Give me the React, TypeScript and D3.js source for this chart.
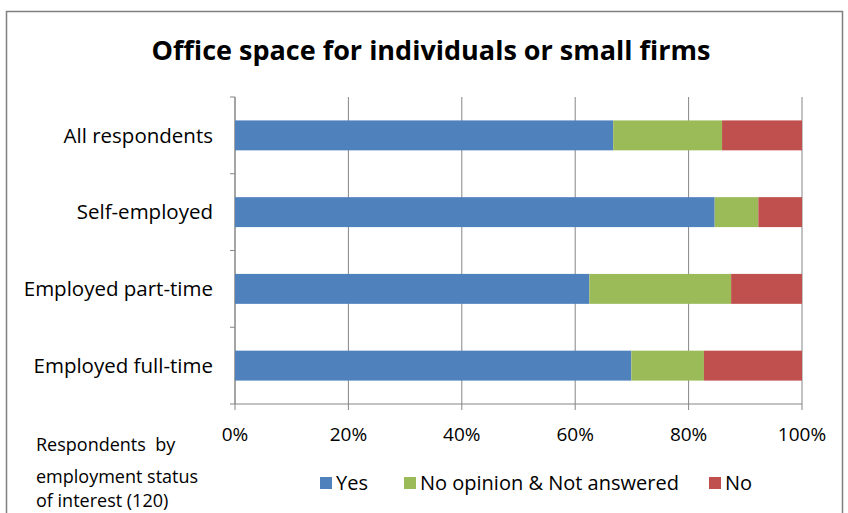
import React from "react";
import * as d3 from "d3";

const categories = ["All respondents", "Self-employed", "Employed part-time", "Employed full-time"];
const yesValues = [66.7, 84.6, 62.5, 69.9];
const noOpinionValues = [19.2, 7.7, 25.0, 12.8];
const noValues = [14.1, 7.7, 12.5, 17.3];
const seriesNames = ["Yes", "No opinion & Not answered", "No"];
const seriesColors = ["#4F81BD", "#9BBB59", "#C0504D"];
const xTicks = [0, 20, 40, 60, 80, 100];
const title = "Office space for individuals or small firms";
const noteLines = ["Respondents  by", "employment status", "of interest (120)"];

const W = 848;
const H = 513;
const FONT = "'Open Sans', 'Noto Sans', sans-serif";

export default function App() {
  const x = d3.scaleLinear().domain([0, 100]).range([235, 802]);
  const y = d3.scaleBand<string>().domain(categories).range([97, 404]).paddingInner(0.61).paddingOuter(0.305);
  const step = y.step();

  const rows = categories.map((c, i) => {
    const vals = [yesValues[i], noOpinionValues[i], noValues[i]];
    let acc = 0;
    const segs = vals.map((v, k) => {
      const s = { x0: acc, x1: acc + v, k };
      acc += v;
      return s;
    });
    return { c, segs };
  });

  const legendX = [320, 404, 709];
  const gridColor = "#868686";

  return (
    <svg width={W} height={H} style={{ position: "absolute", left: 0, top: 0, background: "#fff" }}>
      <rect x={0} y={0} width={W} height={H} fill="#fff" />
      <rect x={6.5} y={11.5} width={836} height={520} fill="#fff" stroke="#7f7f7f" strokeWidth={1.5} />
      <text x={431} y={60} textAnchor="middle" fontFamily={FONT} fontWeight={700} fontSize={27} fill="#000">
        {title}
      </text>
      {/* gridlines */}
      {xTicks.map((t) => (
        <line key={"g" + t} x1={x(t)} x2={x(t)} y1={97} y2={410} stroke={gridColor} strokeWidth={1} />
      ))}
      {/* y axis ticks */}
      {d3.range(categories.length + 1).map((i) => (
        <line key={"yt" + i} x1={230} x2={235} y1={97 + i * step} y2={97 + i * step} stroke={gridColor} />
      ))}
      <line x1={235} x2={235} y1={97} y2={404} stroke={gridColor} />
      <line x1={235} x2={802} y1={404} y2={404} stroke={gridColor} />
      {/* bars */}
      {rows.map((r) =>
        r.segs.map((s) => (
          <rect
            key={r.c + s.k}
            x={x(s.x0)}
            y={y(r.c)}
            width={x(s.x1) - x(s.x0)}
            height={y.bandwidth()}
            fill={seriesColors[s.k]}
          />
        ))
      )}
      {/* category labels */}
      {categories.map((c) => (
        <text
          key={"cl" + c}
          x={213}
          y={(y(c) as number) + y.bandwidth() / 2}
          dy="0.35em"
          textAnchor="end"
          fontFamily={FONT}
          fontSize={20.5}
          fill="#000"
        >
          {c}
        </text>
      ))}
      {/* x tick labels */}
      {xTicks.map((t) => (
        <text key={"xl" + t} x={x(t)} y={434} dy="0.35em" textAnchor="middle" fontFamily={FONT} fontSize={19} fill="#000">
          {t + "%"}
        </text>
      ))}
      {/* note */}
      {noteLines.map((l, i) => (
        <text key={"n" + i} x={36} y={[445, 477, 501][i]} dy="0.35em" fontFamily={FONT} fontSize={18} fill="#000" style={{ whiteSpace: "pre" }}>
          {l}
        </text>
      ))}
      {/* legend */}
      {seriesNames.map((n, i) => (
        <g key={"lg" + n}>
          <rect x={legendX[i]} y={477} width={12} height={12} fill={seriesColors[i]} />
          <text x={legendX[i] + 16} y={483} dy="0.35em" fontFamily={FONT} fontSize={20} fill="#000">
            {n}
          </text>
        </g>
      ))}
    </svg>
  );
}
